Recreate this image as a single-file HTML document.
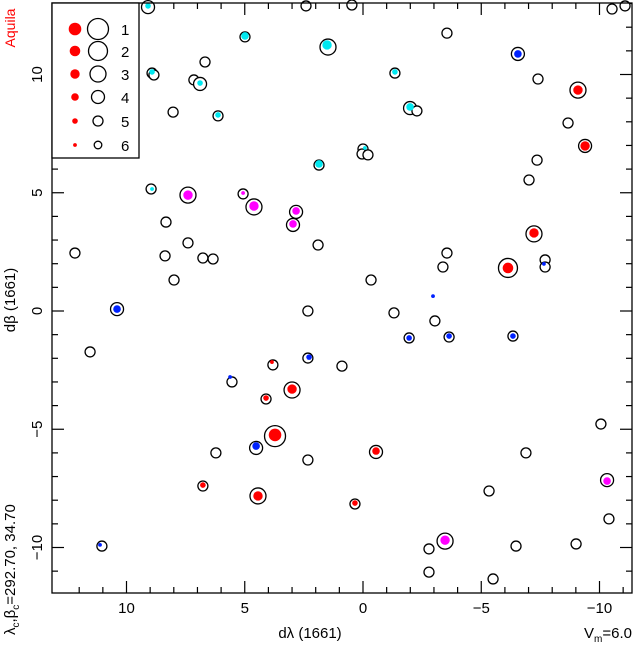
<!DOCTYPE html>
<html><head><meta charset="utf-8"><style>
html,body{margin:0;padding:0;background:#fff;}
svg{display:block;font-family:"Liberation Sans",sans-serif;}
</style></head><body>
<svg id="chart" width="637" height="645" viewBox="0 0 637 645">
<g id="ticks"></g>
<g id="marks"></g>
<rect x="52" y="3" width="580" height="590" fill="none" stroke="#000" stroke-width="1.3"/>
<g>
<rect x="52" y="3" width="87" height="155" fill="#fff" stroke="#000" stroke-width="1.3"/>
<g id="legend"></g>
</g>
<g id="labels" font-size="15" fill="#000">
<text x="310" y="638" text-anchor="middle">dλ (1661)</text>
<text transform="translate(15,300) rotate(-90)" text-anchor="middle">dβ (1661)</text>
<text transform="translate(15,28) rotate(-90)" text-anchor="middle" fill="#ff0000" font-size="14">Aquila</text>
<text transform="translate(15,635) rotate(-90)" text-anchor="start">λ<tspan font-size="10" dy="4">c</tspan><tspan dy="-4">,β</tspan><tspan font-size="10" dy="4">c</tspan><tspan dy="-4">=292.70, 34.70</tspan></text>
<text x="632" y="638" text-anchor="end">V<tspan font-size="10" dy="4">m</tspan><tspan dy="-4">=6.0</tspan></text>
</g>
</svg>
<script>
// open circles (epoch 1661 positions)
const openX=[9.09,2.41,0.47,4.99,1.48,6.68,8.92,8.84,7.15,6.89,8.03,6.13,0.00,0.04,-0.21,1.86,8.96,7.40,5.07,4.61,2.83,2.96,8.33,7.40,1.90,8.37,6.77,6.34,7.99,-0.34,-10.53,-11.08,-3.55,-6.55,-1.35,-7.40,-9.09,-1.99,-2.28,-8.67,-9.39,-7.36,-7.02,-7.23,-3.55,-3.38,-6.13,-7.70,-7.70,12.18,10.40,2.33,11.54,2.33,0.89,3.81,5.54,3.00,4.10,3.72,4.52,6.22,2.33,6.77,4.44,11.04,-1.31,-3.04,-1.95,-3.64,-6.34,-10.06,-0.55,-6.89,-10.32,-5.33,0.34,-10.40,-3.47,-2.79,-6.47,-9.01,-2.79,-5.50];
const openY=[12.85,12.90,12.94,11.59,11.16,10.53,10.06,9.98,9.77,9.60,8.41,8.25,6.85,6.64,6.60,6.17,5.16,4.90,4.95,4.40,4.19,3.64,3.76,2.88,2.79,2.33,2.24,2.20,1.31,1.31,12.77,12.90,11.75,10.87,10.06,9.81,9.34,8.58,8.46,7.95,6.98,6.38,5.54,3.26,2.45,1.86,1.82,2.16,1.86,2.45,0.08,0.00,-1.73,-1.99,-2.33,-2.28,-3.00,-3.34,-3.72,-5.29,-5.79,-6.00,-6.30,-7.40,-7.82,-9.94,-0.08,-0.42,-1.14,-1.10,-1.06,-4.78,-5.96,-6.00,-7.15,-7.61,-8.16,-8.79,-9.73,-10.06,-9.94,-9.85,-11.04,-11.33];
const openMag=[4,5,5,5,3,5,5,5,5,4,5,5,5,5,5,5,5,3,5,3,4,4,5,5,5,5,5,5,5,5,5,5,5,4,5,5,3,4,5,5,4,5,5,3,5,5,2,5,5,5,4,5,5,5,5,5,5,3,5,1,4,5,5,5,3,5,5,5,5,5,5,5,4,5,4,5,5,5,3,5,5,5,5,5];
// filled dots (current positions)
const dotX=[9.09,4.99,1.52,8.92,6.89,6.13,-0.08,1.86,8.92,-1.35,-1.99,7.40,5.07,4.61,2.83,2.96,-10.32,-3.47,-9.09,-9.39,-7.23,-6.13,3.85,3.00,4.10,3.72,6.77,4.44,-0.55,0.34,-6.55,-7.65,-2.96,10.40,2.28,5.62,4.52,11.12,-1.95,-3.64,-6.34];
const dotY=[12.90,11.63,11.25,10.11,9.64,8.29,6.89,6.22,5.16,10.11,8.63,4.90,4.99,4.44,4.23,3.68,-7.19,-9.69,9.34,6.98,3.30,1.82,-2.16,-3.30,-3.68,-5.24,-7.36,-7.82,-5.92,-8.12,10.87,1.99,0.63,0.08,-1.95,-2.79,-5.71,-9.89,-1.14,-1.06,-1.06];
const dotMag=[5,4,3,5,5,5,6,4,6,5,4,3,6,3,4,4,4,3,3,3,3,2,6,3,5,1,5,3,4,5,4,6,6,4,5,6,4,6,5,5,5];
const dotColor=["c","c","c","c","c","c","c","c","c","c","c","m","m","m","m","m","m","m","r","r","r","r","r","r","r","r","r","r","r","r","b","b","b","b","b","b","b","b","b","b","b"];
const legendMags=[1,2,3,4,5,6];
const xTicks=[10,5,0,-5,-10];
const yTicks=[10,5,0,-5,-10];

const NS="http://www.w3.org/2000/svg";
const X0=363,Y0=311,K=23.65;
const sx=v=>X0-v*K, sy=v=>Y0-v*K;
const openR=[0,10.5,9.5,8,6.5,5,3.8];
const dotR=[0,6.3,5.3,4.7,3.8,2.8,1.9];
const colors={c:"#00e8f0",m:"#ff00ff",r:"#ff0000",b:"#0022ff"};
function mk(tag,attrs,parent){const e=document.createElementNS(NS,tag);for(const k in attrs)e.setAttribute(k,attrs[k]);parent.appendChild(e);return e;}

const ticks=document.getElementById('ticks');
for(let v=-11;v<=12;v++){
  const px=sx(v); if(px<52||px>632)continue;
  const L=(v%5===0)?12:6;
  const t1=mk('line',{x1:px,x2:px,y1:593,y2:593-L,stroke:'#000','stroke-width':1.2},ticks);
  
  
  const t2=mk('line',{x1:px,x2:px,y1:3,y2:3+L,stroke:'#000','stroke-width':1.2},ticks);
  
  
}
for(let v=-11;v<=13;v++){
  const py=sy(v); if(py<3||py>593)continue;
  const L=(v%5===0)?12:6;
  const t1=mk('line',{x1:52,x2:52+L,y1:py,y2:py,stroke:'#000','stroke-width':1.2},ticks);
  
  
  const t2=mk('line',{x1:632,x2:632-L,y1:py,y2:py,stroke:'#000','stroke-width':1.2},ticks);
  
  
}
const labels=document.getElementById('labels');
xTicks.forEach(v=>{
  const t=mk('text',{x:sx(v),y:613,'text-anchor':'middle'},labels);
  t.textContent=v<0?'\u2212'+(-v):String(v);
  
  
});
yTicks.forEach(v=>{
  const t=mk('text',{transform:`translate(42,${sy(v)}) rotate(-90)`,'text-anchor':'middle'},labels);
  t.textContent=v<0?'\u2212'+(-v):String(v);
  
  
});

const marks=document.getElementById('marks');
openX.forEach((v,i)=>{
  const c=mk('circle',{cx:sx(v),cy:sy(openY[i]),r:openR[openMag[i]],fill:'#fff',stroke:'#000','stroke-width':1.3},marks);
  
  
});
dotX.forEach((v,i)=>{
  const c=mk('circle',{cx:sx(v),cy:sy(dotY[i]),r:dotR[dotMag[i]],fill:colors[dotColor[i]]},marks);
  
  
});

const leg=document.getElementById('legend');
const rowY=[29,51,74,97,121,145];
legendMags.forEach((m,i)=>{
  const a=mk('circle',{cx:75,cy:rowY[i],r:dotR[m],fill:'#ff0000'},leg);
  
  
  const b=mk('circle',{cx:98,cy:rowY[i],r:openR[m],fill:'none',stroke:'#000','stroke-width':1.3},leg);
  
  
  const t=mk('text',{x:121,y:rowY[i]+6,'font-size':15},leg);
  t.textContent=String(m);
  
  
});
</script>
</body></html>
